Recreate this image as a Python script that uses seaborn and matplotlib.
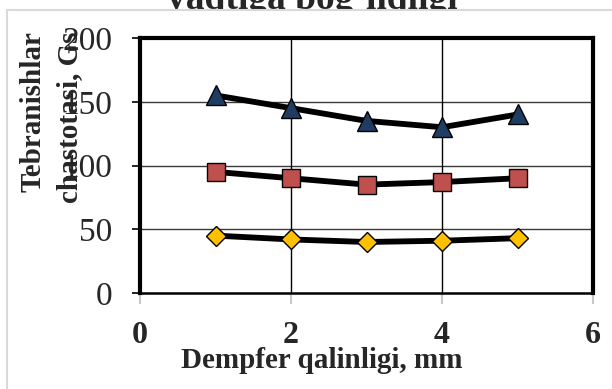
import matplotlib
matplotlib.use("Agg")
import matplotlib.pyplot as plt
import seaborn as sns
import pandas as pd
from matplotlib.patches import Rectangle

sns.set_style("white")
plt.rcParams['font.family'] = ['Liberation Serif', 'DejaVu Serif']

thickness = [1, 2, 3, 4, 5]
series_blue = [155, 145, 135, 130, 140]
series_red = [95, 90, 85, 87, 90]
series_yellow = [45, 42, 40, 41, 43]
x_ticks = [0, 2, 4, 6]
y_ticks = [0, 50, 100, 150, 200]

W, H = 612, 389
fig = plt.figure(figsize=(W / 100, H / 100), dpi=100)
fig.patch.set_facecolor('white')

# outer light frame (white chart area covering the title's lower part)
fig.patches.append(Rectangle((7 / W, -0.1), 1.2, (H - 10) / H + 0.1,
                             transform=fig.transFigure, facecolor='white',
                             edgecolor='#d9d9d9', linewidth=1.5, zorder=-1))

ax = fig.add_axes([140 / W, 1 - 293 / H, (593 - 140) / W, (293 - 38) / H])

styles = [
    (series_blue, '^', '#1f3d63', 14),
    (series_red, 's', '#c0504d', 13),
    (series_yellow, 'D', '#ffc000', 10),
]
for vals, mk, fc, ms in styles:
    df = pd.DataFrame({'x': thickness, 'y': vals})
    sns.lineplot(data=df, x='x', y='y', ax=ax, color='black', linewidth=4.2,
                 marker=mk, markersize=ms, markerfacecolor=fc,
                 markeredgecolor='black', markeredgewidth=1.0, zorder=3)

ax.set_xlim(0, 6)
ax.set_ylim(0, 200)
ax.set_xticks(x_ticks)
ax.set_yticks(y_ticks)
ax.set_xticklabels([str(v) for v in x_ticks], fontsize=23, fontweight='bold')
ax.set_yticklabels([str(v) for v in y_ticks], fontsize=24)
ax.set_xlabel('')
ax.set_ylabel('')

ax.grid(False)
for yv in [50, 100, 150]:
    ax.axhline(yv, color='#3a3a3a', linewidth=1.0, zorder=1)
for xv in [2, 4]:
    ax.axvline(xv, color='black', linewidth=1.0, zorder=1)

for s in ['left', 'top', 'right']:
    ax.spines[s].set_color('black')
    ax.spines[s].set_linewidth(3.0)
ax.spines['bottom'].set_color('black')
ax.spines['bottom'].set_linewidth(1.8)

ax.tick_params(axis='y', direction='out', length=6, width=1.2, color='black', pad=14, left=True)
ax.tick_params(axis='x', direction='out', length=8, width=1.5, color='#c8c8c8', pad=12, bottom=True)

# texts
fig.text(312 / W, 1 - 9 / H, "vaqtiga bog\u2018liqligi", ha='center', va='baseline',
         fontsize=27, fontweight='bold', zorder=-2)
fig.text(322 / W, 1 - 360 / H, "Dempfer qalinligi, mm", ha='center', va='center',
         fontsize=21, fontweight='bold')
fig.text(33 / W, 1 - 112 / H, "Tebranishlar", ha='center', va='center',
         rotation=90, fontsize=21, fontweight='bold')
fig.text(70 / W, 1 - 117 / H, "chastotasi, Gs", ha='center', va='center',
         rotation=90, fontsize=21, fontweight='bold')

fig.savefig('out.png', dpi=100, facecolor='white')
